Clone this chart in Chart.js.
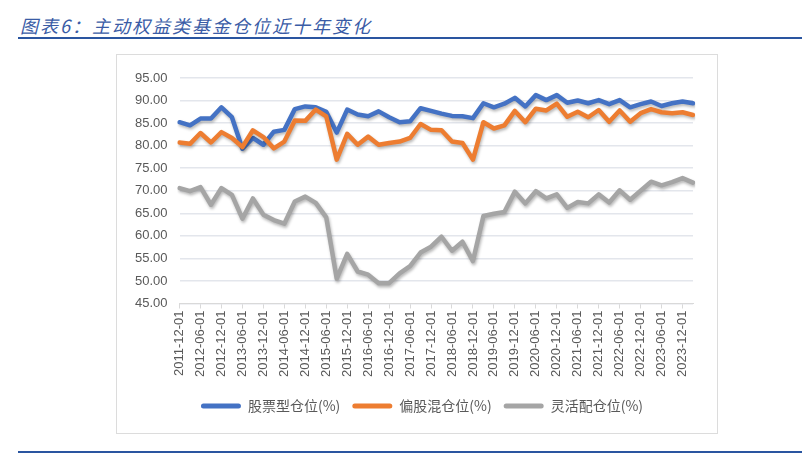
<!DOCTYPE html>
<html>
<head>
<meta charset="utf-8">
<script src="https://cdn.jsdelivr.net/npm/chart.js@4.4.1/dist/chart.umd.min.js"></script>
<style>
  body { margin: 0; width: 802px; height: 456px; background: #fff; position: relative; overflow: hidden; }
  #title { position: absolute; left: 20px; top: 12px; font-family: "Noto Sans CJK SC", sans-serif; font-style: italic;
           font-size: 18px; letter-spacing: 2px; color: #3a5ca6; }
  #topline { position: absolute; left: 18px; top: 37px; width: 784px; height: 2px; background: #2a55a0; }
  #bottomline { position: absolute; left: 18px; top: 451px; width: 784px; height: 2px; background: #2a55a0; }
  #box { position: absolute; left: 116px; top: 54px; width: 600px; height: 378px; border: 1px solid #dcdcdc; }
</style>
</head>
<body>
<div id="title">图表6：主动权益类基金仓位近十年变化</div>
<div id="topline"></div>
<div id="box"><canvas id="chart"></canvas></div>
<div id="bottomline"></div>
<script>
// 季度日期 2011-12 ... 2024-03
const labels = [
  '2011-12-01','2012-03-01','2012-06-01','2012-09-01','2012-12-01','2013-03-01','2013-06-01','2013-09-01',
  '2013-12-01','2014-03-01','2014-06-01','2014-09-01','2014-12-01','2015-03-01','2015-06-01','2015-09-01',
  '2015-12-01','2016-03-01','2016-06-01','2016-09-01','2016-12-01','2017-03-01','2017-06-01','2017-09-01',
  '2017-12-01','2018-03-01','2018-06-01','2018-09-01','2018-12-01','2019-03-01','2019-06-01','2019-09-01',
  '2019-12-01','2020-03-01','2020-06-01','2020-09-01','2020-12-01','2021-03-01','2021-06-01','2021-09-01',
  '2021-12-01','2022-03-01','2022-06-01','2022-09-01','2022-12-01','2023-03-01','2023-06-01','2023-09-01',
  '2023-12-01','2024-03-01'
];

// 股票型仓位
const stockFund = [
  85.2, 84.5, 86.0, 86.0, 88.5, 86.3, 79.3, 81.7, 80.2, 83.1,
  83.5, 88.1, 88.7, 88.5, 87.5, 82.9, 88.0, 86.9, 86.5, 87.6,
  86.3, 85.2, 85.4, 88.3, 87.7, 87.1, 86.6, 86.5, 86.1, 89.4,
  88.5, 89.3, 90.6, 88.7, 91.2, 90.1, 91.2, 89.5, 90.0, 89.4,
  90.1, 89.2, 90.1, 88.5, 89.2, 89.8, 88.8, 89.4, 89.8, 89.4
];
// 偏股混合仓位
const mixedFund = [
  80.7, 80.4, 82.8, 80.7, 83.0, 81.7, 79.7, 83.4, 81.9, 79.4,
  80.9, 85.6, 85.5, 88.0, 86.5, 76.9, 82.6, 80.2, 82.0, 80.2,
  80.6, 80.9, 81.7, 84.8, 83.5, 83.4, 80.9, 80.6, 76.9, 85.2,
  83.8, 84.5, 87.7, 85.2, 88.2, 87.8, 89.3, 86.4, 87.5, 86.3,
  87.9, 85.3, 87.8, 85.3, 87.2, 88.1, 87.4, 87.2, 87.4, 86.8
];
// 灵活配置仓位
const flexFund = [
  70.6, 69.9, 70.8, 66.9, 70.6, 69.1, 63.8, 68.3, 64.7, 63.5,
  62.7, 67.6, 68.7, 67.3, 64.1, 50.5, 56.0, 52.1, 51.4, 49.5,
  49.5, 51.7, 53.3, 56.3, 57.6, 59.8, 56.7, 58.7, 54.4, 64.4,
  64.9, 65.3, 69.8, 67.2, 69.9, 68.3, 69.2, 66.2, 67.5, 67.2,
  69.2, 67.4, 70.1, 68.0, 70.0, 72.0, 71.2, 71.9, 72.8, 71.8
];

const seriesNames = ['股票型仓位(%)', '偏股混仓位(%)', '灵活配仓位(%)'];
const colors = ['#4472C4', '#ED7D31', '#A5A5A5'];

// Excel 风格的线条阴影
const shadowPlugin = {
  id: 'lineShadow',
  beforeDatasetDraw(chart) {
    const c = chart.ctx;
    c.save();
    c.shadowColor = 'rgba(0,0,0,0.28)';
    c.shadowBlur = 3;
    c.shadowOffsetX = 1;
    c.shadowOffsetY = 2;
  },
  afterDatasetDraw(chart) {
    chart.ctx.restore();
  },
  // 图例整体右移一点
  afterLayout(chart) {
    if (chart.legend) {
      chart.legend.left += 14;
      chart.legend.right += 14;
    }
  }
};

function makeSet(i, data, order) {
  return {
    label: seriesNames[i],
    data: data,
    borderColor: colors[i],
    backgroundColor: colors[i],
    borderWidth: 4.5,
    pointRadius: 0,
    tension: 0,
    borderJoinStyle: 'round',
    borderCapStyle: 'round',
    order: order
  };
}

const ctx = document.getElementById('chart');
new Chart(ctx, {
  type: 'line',
  data: {
    labels: labels,
    datasets: [makeSet(0, stockFund, 2), makeSet(1, mixedFund, 1), makeSet(2, flexFund, 0)]
  },
  options: {
    responsive: true,
    maintainAspectRatio: false,
    animation: false,
    layout: { padding: { left: 6, right: 24, top: 23, bottom: 10 } },
    scales: {
      x: {
        offset: false,
        border: { color: '#d9d9d9' },
        grid: {
          drawOnChartArea: false,
          drawTicks: true,
          tickLength: 5,
          color: c => (c.index % 2 === 0 ? '#d9d9d9' : 'rgba(0,0,0,0)')
        },
        ticks: {
          autoSkip: false,
          maxRotation: 90,
          minRotation: 90,
          padding: 2,
          color: '#595959',
          font: { family: 'Liberation Sans', size: 13 },
          callback: function (value, index) {
            return index % 2 === 0 ? this.getLabelForValue(value) : '';
          }
        },
        // 标签与图例之间留白
        afterFit: scale => { scale.height += 8; }
      },
      y: {
        min: 45,
        max: 95,
        border: { display: false },
        grid: { color: '#e3e6ec', lineWidth: 1.5, drawTicks: false },
        ticks: {
          stepSize: 5,
          padding: 12,
          color: '#595959',
          font: { family: 'Liberation Sans', size: 13 },
          callback: v => v.toFixed(2)
        }
      }
    },
    plugins: {
      legend: {
        position: 'bottom',
        labels: {
          boxWidth: 40,
          boxHeight: 5,
          useBorderRadius: true,
          borderRadius: 2.5,
          padding: 12,
          color: '#595959',
          font: { family: 'Noto Sans CJK SC', size: 14 },
          sort: (a, b) => a.datasetIndex - b.datasetIndex,
          generateLabels: chart => Chart.defaults.plugins.legend.labels.generateLabels(chart)
            .map(item => Object.assign(item, { lineWidth: 0 }))
        }
      },
      tooltip: { enabled: false }
    }
  },
  plugins: [shadowPlugin]
});
</script>
</body>
</html>
